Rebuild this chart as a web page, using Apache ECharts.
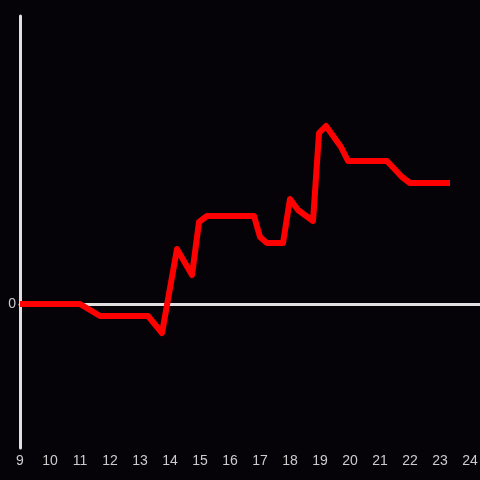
<!DOCTYPE html>
<html>
<head>
<meta charset="utf-8">
<script src="https://cdn.jsdelivr.net/npm/echarts@6/dist/echarts.min.js"></script>
<style>
  html, body { margin: 0; padding: 0; background: #050307; }
  #chart { width: 480px; height: 480px; }
</style>
</head>
<body>
<div id="chart"></div>
<script>
// hour of day (decimal) and value
const hours = [9.0, 11.0, 11.667, 13.267, 13.733, 14.233, 14.733, 14.967, 15.233, 16.8,
  17.0, 17.233, 17.767, 18.0, 18.267, 18.767, 18.967, 19.2, 19.7, 19.933,
  21.233, 21.733, 22.0, 23.333]
const values = [0, 0, -12, -12, -29, 55, 29, 82, 88, 88,
  67, 61, 61, 105, 94, 83, 171, 178, 157, 143,
  143, 127, 121, 121]
const yLabels = ['0']

const axisColor = '#e0e0e0'
const labelFont = { color: '#cccccc', fontSize: 14, fontFamily: 'Liberation Sans, Arial, sans-serif' }

const chart = echarts.init(document.getElementById('chart'), undefined, { renderer: 'canvas' })

chart.setOption({
  backgroundColor: '#050307',
  animation: false,
  grid: { left: 20, right: 0, top: 16, bottom: 32, outerBoundsMode: 'none', containLabel: false },
  xAxis: [
    {
      type: 'value',
      min: 9,
      max: 24.333,
      interval: 1,
      position: 'bottom',
      axisLine: { show: false, onZero: false },
      axisTick: { show: false },
      splitLine: { show: false },
      axisLabel: {
        ...labelFont,
        margin: 6,
        formatter: (v) => (Number.isInteger(v) ? String(v) : ''),
      },
    },
    {
      type: 'value',
      min: 9,
      max: 24.333,
      position: 'top',
      axisLine: { show: true, onZero: true, lineStyle: { color: axisColor, width: 3 } },
      axisTick: { show: false },
      splitLine: { show: false },
      axisLabel: { show: false },
    },
  ],
  yAxis: {
    type: 'value',
    min: -144,
    max: 288,
    interval: 144,
    axisLine: { show: true, onZero: false, lineStyle: { color: axisColor, width: 3 } },
    axisTick: { show: false },
    splitLine: { show: false },
    axisLabel: {
      ...labelFont,
      margin: 4,
      formatter: (v) => (yLabels.includes(String(v)) ? String(v) : ''),
    },
  },
  series: [
    {
      type: 'line',
      xAxisIndex: 0,
      data: hours.map((h, i) => [h, values[i]]),
      showSymbol: false,
      smooth: false,
      lineStyle: { color: '#ff0000', width: 6, join: 'round', cap: 'butt' },
      z: 3,
    },
  ],
})
</script>
</body>
</html>
